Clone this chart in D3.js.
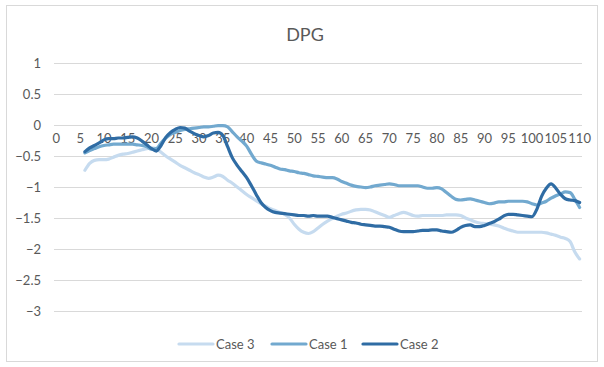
<!DOCTYPE html>
<html>
<head>
<meta charset="utf-8">
<script src="https://cdn.jsdelivr.net/npm/d3@7"></script>
<style>
  html, body { margin: 0; padding: 0; background: #fff; }
  svg { display: block; }
  text { font-family: Lato, "Open Sans", "Liberation Sans", sans-serif; fill: #595959; }
</style>
</head>
<body>
<svg id="chart" width="604" height="367"></svg>
<script>
// ---- data ----
const categories = d3.range(0, 111);           // category axis 0..110
const xTickLabels = d3.range(0, 111, 5);        // shown labels
const yTicks = [1, 0.5, 0, -0.5, -1, -1.5, -2, -2.5, -3];
const dataStart = 6;                            // series begin at x = 6

const case3 = [
  -0.73,-0.62,-0.57,-0.56,-0.56,-0.55,-0.52,-0.49,-0.47,-0.46,
  -0.44,-0.42,-0.40,-0.38,-0.37,-0.38,-0.44,-0.50,-0.55,-0.60,
  -0.65,-0.69,-0.73,-0.77,-0.80,-0.84,-0.86,-0.84,-0.81,-0.83,
  -0.89,-0.94,-1.00,-1.06,-1.12,-1.17,-1.22,-1.27,-1.31,-1.35,
  -1.38,-1.41,-1.44,-1.50,-1.60,-1.68,-1.73,-1.75,-1.72,-1.66,
  -1.60,-1.55,-1.51,-1.47,-1.44,-1.42,-1.39,-1.37,-1.36,-1.36,
  -1.37,-1.40,-1.43,-1.46,-1.49,-1.46,-1.43,-1.41,-1.43,-1.46,
  -1.47,-1.46,-1.46,-1.46,-1.46,-1.46,-1.45,-1.45,-1.45,-1.46,
  -1.50,-1.53,-1.56,-1.58,-1.59,-1.60,-1.61,-1.63,-1.66,-1.69,
  -1.71,-1.73,-1.73,-1.73,-1.73,-1.73,-1.73,-1.74,-1.76,-1.78,
  -1.81,-1.83,-1.88,-2.05,-2.16
];
const case1 = [
  -0.45,-0.41,-0.38,-0.35,-0.33,-0.32,-0.31,-0.31,-0.31,-0.31,
  -0.31,-0.32,-0.33,-0.35,-0.39,-0.38,-0.29,-0.21,-0.15,-0.12,
  -0.09,-0.07,-0.06,-0.05,-0.04,-0.03,-0.03,-0.02,-0.01,-0.01,
  -0.03,-0.11,-0.19,-0.26,-0.34,-0.47,-0.58,-0.61,-0.63,-0.65,
  -0.68,-0.71,-0.72,-0.74,-0.75,-0.77,-0.78,-0.80,-0.82,-0.83,
  -0.84,-0.85,-0.85,-0.87,-0.91,-0.94,-0.97,-0.99,-1.00,-1.01,
  -1.00,-0.98,-0.97,-0.96,-0.95,-0.96,-0.98,-0.98,-0.98,-0.98,
  -0.98,-1.00,-1.02,-1.02,-1.01,-1.03,-1.09,-1.15,-1.20,-1.21,
  -1.20,-1.19,-1.21,-1.23,-1.25,-1.27,-1.26,-1.24,-1.24,-1.23,
  -1.23,-1.23,-1.23,-1.24,-1.27,-1.29,-1.26,-1.23,-1.18,-1.14,
  -1.11,-1.08,-1.09,-1.20,-1.33
];
const case2 = [
  -0.43,-0.37,-0.33,-0.29,-0.24,-0.22,-0.22,-0.21,-0.21,-0.20,
  -0.19,-0.21,-0.26,-0.32,-0.38,-0.42,-0.33,-0.20,-0.12,-0.07,
  -0.04,-0.05,-0.10,-0.14,-0.17,-0.19,-0.17,-0.13,-0.12,-0.17,
  -0.35,-0.53,-0.65,-0.75,-0.85,-0.98,-1.12,-1.25,-1.33,-1.38,
  -1.41,-1.42,-1.43,-1.44,-1.45,-1.46,-1.46,-1.47,-1.46,-1.47,
  -1.47,-1.47,-1.49,-1.51,-1.53,-1.55,-1.57,-1.58,-1.60,-1.61,
  -1.62,-1.63,-1.63,-1.64,-1.65,-1.68,-1.71,-1.72,-1.72,-1.72,
  -1.71,-1.70,-1.70,-1.69,-1.69,-1.71,-1.72,-1.73,-1.70,-1.65,
  -1.62,-1.61,-1.64,-1.64,-1.62,-1.59,-1.56,-1.52,-1.47,-1.44,
  -1.44,-1.45,-1.46,-1.47,-1.48,-1.36,-1.15,-1.02,-0.95,-1.02,
  -1.12,-1.19,-1.21,-1.22,-1.25
];

const seriesNames = ["Case 3", "Case 1", "Case 2"];
const seriesValues = [case3, case1, case2];
const seriesColors = ["#c6dbef", "#72a9cf", "#2f6ca4"];

// ---- layout ----
const svg = d3.select("#chart");
const W = 604, H = 367;
const plot = { left: 54, right: 582, top: 63, bottom: 311 };

svg.append("rect")
  .attr("x", 6.5).attr("y", 5.5).attr("width", 591).attr("height", 356)
  .attr("fill", "#fff").attr("stroke", "#d9d9d9").attr("stroke-width", 1);

const x = d3.scaleBand().domain(categories).range([plot.left, plot.right]).padding(0);
const xc = d => x(d) + x.bandwidth() / 2;
const y = d3.scaleLinear().domain([-3, 1]).range([plot.bottom, plot.top]);

// gridlines
svg.append("g")
  .selectAll("line").data(yTicks).join("line")
  .attr("x1", plot.left).attr("x2", plot.right)
  .attr("y1", d => Math.round(y(d)) + 0.5).attr("y2", d => Math.round(y(d)) + 0.5)
  .attr("stroke", "#d9d9d9").attr("stroke-width", 1);

// y axis labels
const yAxis = d3.axisLeft(y).tickValues(yTicks).tickSize(0).tickPadding(0)
  .tickFormat(d => d3.format("")(d));
const gy = svg.append("g").attr("transform", `translate(${plot.left - 13},0)`).call(yAxis);
gy.select(".domain").remove();
gy.selectAll("text").style("font-size", "13px").attr("fill", "#595959")
  .style("font-family", "Lato, 'Open Sans', sans-serif");

// x axis at y=0
const xAxis = d3.axisBottom(x).tickValues(xTickLabels).tickSize(0).tickPadding(0);
const gx = svg.append("g").attr("transform", `translate(0,${y(0) + 14})`).call(xAxis);
gx.select(".domain").remove();
gx.selectAll("text").style("font-size", "13px").attr("fill", "#595959").attr("dy", "0.32em")
  .style("font-family", "Lato, 'Open Sans', sans-serif");

// lines
const line = d3.line()
  .x((d, i) => xc(dataStart + i))
  .y(d => y(d))
  .curve(d3.curveMonotoneX);

svg.append("g").selectAll("path").data(seriesValues).join("path")
  .attr("d", d => line(d))
  .attr("fill", "none")
  .attr("stroke", (d, i) => seriesColors[i])
  .attr("stroke-width", 3.2)
  .attr("stroke-linejoin", "round")
  .attr("stroke-linecap", "round");

// title
svg.append("text").attr("x", 305).attr("y", 41).attr("text-anchor", "middle")
  .style("font-size", "18px").text("DPG");

// legend
const legendX = [179, 272, 363];
const lg = svg.append("g").selectAll("g").data(seriesNames).join("g")
  .attr("transform", (d, i) => `translate(${legendX[i]},344)`);
lg.append("line").attr("x1", 0).attr("x2", 34).attr("y1", 0).attr("y2", 0)
  .attr("stroke", (d, i) => seriesColors[i]).attr("stroke-width", 3.2)
  .attr("stroke-linecap", "round");
lg.append("text").attr("x", 37).attr("y", 0).attr("dy", "0.35em")
  .style("font-size", "13px").text(d => d);
</script>
</body>
</html>
